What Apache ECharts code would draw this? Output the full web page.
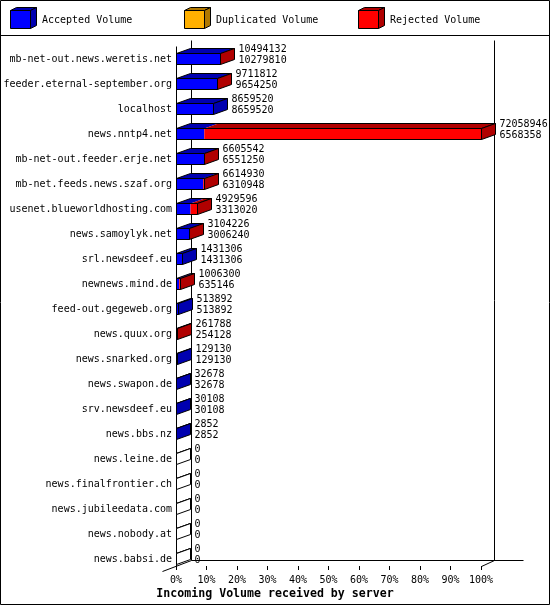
<!DOCTYPE html>
<html><head><meta charset="utf-8">
<script src="https://cdn.jsdelivr.net/npm/echarts@6/dist/echarts.min.js"></script>
<style>html,body{margin:0;padding:0;background:#fff}#c{width:550px;height:605px}</style>
</head><body><div id="c"></div>
<script>
// ---- data ----
const servers = [
  'mb-net-out.news.weretis.net','feeder.eternal-september.org','localhost','news.nntp4.net',
  'mb-net-out.feeder.erje.net','mb-net.feeds.news.szaf.org','usenet.blueworldhosting.com',
  'news.samoylyk.net','srl.newsdeef.eu','newnews.mind.de','feed-out.gegeweb.org','news.quux.org',
  'news.snarked.org','news.swapon.de','srv.newsdeef.eu','news.bbs.nz','news.leine.de',
  'news.finalfrontier.ch','news.jubileedata.com','news.nobody.at','news.babsi.de'
];
const offeredVolume = [10494132,9711812,8659520,72058946,6605542,6614930,4929596,3104226,1431306,1006300,513892,261788,129130,32678,30108,2852,0,0,0,0,0];
const acceptedVolume = [10279810,9654250,8659520,6568358,6551250,6310948,3313020,3006240,1431306,635146,513892,254128,129130,32678,30108,2852,0,0,0,0,0];
const duplicatedVolume = [0,0,0,0,0,0,0,0,0,0,0,0,0,0,0,0,0,0,0,0,0];
const legendNames = ['Accepted Volume','Duplicated Volume','Rejected Volume'];
const axisTitle = 'Incoming Volume received by server';

// ---- styling ----
const FONT = '"DejaVu Sans Mono", monospace';
const COL = {
  acc: ['#0000ff', '#0000b0'],
  dup: ['#ffb000', '#b07800'],
  rej: ['#ff0000', '#b00000']
};
const DX = 14, DY = 5, WDX = 15, WDY = 6;

const maxVol = Math.max(...offeredVolume);
const pct = v => v * 100 / maxVol;
const barData = servers.map((s, i) => {
  const rej = offeredVolume[i] - acceptedVolume[i] - duplicatedVolume[i];
  return [i, pct(acceptedVolume[i]), pct(duplicatedVolume[i]), pct(rej), offeredVolume[i], acceptedVolume[i]];
});

function renderBar(params, api) {
  const i = api.value(0);
  const vals = [api.value(1), api.value(2), api.value(3)];
  const cols = [COL.acc, COL.dup, COL.rej];
  const p0 = api.coord([0, i]);
  const yc = Math.round(p0[1]);
  const yT = yc - 5.5, yB = yT + 11;
  const X0 = Math.round(p0[0]) + 0.5;
  const children = [];
  let start = 0, lastDark = null;
  for (let k = 0; k < 3; k++) {
    const v = vals[k];
    if (v <= 0) continue;
    const xs = api.coord([start, i])[0] + 0.5;
    const xe = api.coord([start + v, i])[0] + 0.5;
    children.push({type: 'rect', shape: {x: xs, y: yT, width: Math.max(xe - xs, 0.6), height: 11},
      style: {fill: cols[k][0], stroke: null}});
    children.push({type: 'polygon', shape: {points: [[xs, yT], [xs + DX, yT - DY], [xe + DX, yT - DY], [xe, yT]]},
      style: {fill: cols[k][1], stroke: null}});
    lastDark = cols[k][1];
    start += v;
  }
  const XE = Math.round(api.coord([start, i])[0]) + 0.5;
  if (XE > X0) {
    children.push({type: 'rect', shape: {x: X0, y: yT, width: XE - X0, height: 11},
      style: {fill: null, stroke: '#000', lineWidth: 1}});
  }
  children.push({type: 'polyline', shape: {points: [[X0, yT], [X0 + DX, yT - DY], [XE + DX, yT - DY], [XE, yT]]},
    style: {fill: null, stroke: '#000', lineWidth: 1}});
  children.push({type: 'polygon', shape: {points: [[XE, yT], [XE + DX, yT - DY], [XE + DX, yB - DY], [XE, yB]]},
    style: {fill: lastDark || '#fff', stroke: '#000', lineWidth: 1}});
  const lx = XE + DX + 4;
  children.push({type: 'text', style: {text: String(api.value(4)), x: lx, y: yc - 9.5,
    font: '10px ' + FONT, fill: '#000', align: 'left', verticalAlign: 'middle'}});
  children.push({type: 'text', style: {text: String(api.value(5)), x: lx, y: yc + 1.5,
    font: '10px ' + FONT, fill: '#000', align: 'left', verticalAlign: 'middle'}});
  return {type: 'group', children};
}

function renderFrame(params, api) {
  const pTop = api.coord([0, 0]);
  const pBot = api.coord([100, servers.length - 1]);
  const xL = Math.round(pTop[0]) + 0.5;
  const xR = Math.round(pBot[0]) + 0.5;
  const yFloor = Math.round(pBot[1]) + 7 + 0.5;
  const yTop = Math.round(pTop[1]) - 19 + 0.5;
  const ls = {stroke: '#000', lineWidth: 1, fill: null};
  return {type: 'group', children: [
    {type: 'line', shape: {x1: xL, y1: yTop + WDY, x2: xL, y2: yFloor}, style: ls},
    {type: 'line', shape: {x1: xL + WDX, y1: yTop, x2: xL + WDX, y2: yFloor - WDY}, style: ls},
    {type: 'line', shape: {x1: xR + WDX - 2, y1: yTop, x2: xR + WDX - 2, y2: yFloor - WDY}, style: ls},
    {type: 'line', shape: {x1: xL + WDX, y1: yFloor - WDY, x2: xR + WDX + 27, y2: yFloor - WDY}, style: ls},
    {type: 'line', shape: {x1: xL - 14, y1: yFloor + 5, x2: xL + WDX, y2: yFloor - WDY}, style: ls},
    {type: 'line', shape: {x1: xR, y1: yFloor, x2: xR + WDX - 2, y2: yFloor - WDY}, style: ls}
  ]};
}

function cube(x, y, cols) {
  return [
    {type: 'polygon', shape: {points: [[x, y], [x + 6, y - 3], [x + 26, y - 3], [x + 20, y]]}, style: {fill: cols[1], stroke: '#000', lineWidth: 1}},
    {type: 'polygon', shape: {points: [[x + 20, y], [x + 26, y - 3], [x + 26, y + 15], [x + 20, y + 18]]}, style: {fill: cols[1], stroke: '#000', lineWidth: 1}},
    {type: 'rect', shape: {x: x, y: y, width: 20, height: 18}, style: {fill: cols[0], stroke: '#000', lineWidth: 1}}
  ];
}
const legendCols = [COL.acc, COL.dup, COL.rej];
const legendX = [10.5, 184.5, 358.5];
const legendTextX = [42, 216, 390];
const graphics = [
  {type: 'rect', shape: {x: 0.5, y: 0.5, width: 549, height: 604}, style: {fill: null, stroke: '#000', lineWidth: 1}, silent: true},
  {type: 'line', shape: {x1: 0, y1: 35.5, x2: 550, y2: 35.5}, style: {stroke: '#000', lineWidth: 1}},
  {type: 'text', left: 'center', top: 588, style: {text: axisTitle, font: 'bold 11.6px ' + FONT, fill: '#000'}}
];
legendNames.forEach((n, k) => {
  cube(legendX[k], 10.5, legendCols[k]).forEach(e => graphics.push(e));
  graphics.push({type: 'text', x: legendTextX[k], y: 20, style: {text: n, font: '10px ' + FONT, fill: '#000', verticalAlign: 'middle'}});
});

const chart = echarts.init(document.getElementById('c'), null, {renderer: 'canvas'});
chart.setOption({
  animation: false,
  backgroundColor: '#fff',
  grid: {left: 176, right: 69, top: 46.5, bottom: 33.5},
  xAxis: {
    type: 'value', min: 0, max: 100, interval: 10, offset: -5.5,
    axisLine: {show: false},
    axisTick: {show: true, length: 4, lineStyle: {color: '#000'}},
    splitLine: {show: false},
    axisLabel: {formatter: '{value}%', fontFamily: FONT, fontSize: 10, color: '#000', margin: 9}
  },
  yAxis: {
    type: 'category', data: servers, inverse: true,
    axisLine: {show: false}, axisTick: {show: false}, splitLine: {show: false},
    axisLabel: {fontFamily: FONT, fontSize: 10, color: '#000', margin: 4}
  },
  series: [
    {type: 'custom', name: 'frame', renderItem: renderFrame, data: [[0, 0]], silent: true, z: 1, clip: false},
    {type: 'custom', name: 'volume', renderItem: renderBar, data: barData, silent: true, z: 2, clip: false,
      encode: {x: [1, 2, 3], y: 0}}
  ],
  graphic: graphics
});
</script></body></html>
